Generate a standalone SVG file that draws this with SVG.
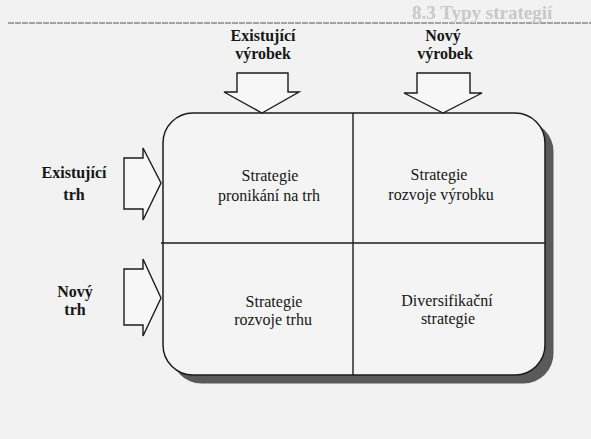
<svg xmlns="http://www.w3.org/2000/svg" width="591" height="439" viewBox="0 0 591 439">
  <style>
    .bold { font-family: "Liberation Serif", "Times New Roman", serif; font-size: 16px; font-weight: bold; fill: #161616; text-anchor: middle; }
    .reg { font-family: "Liberation Serif", "Times New Roman", serif; font-size: 16px; fill: #161616; text-anchor: middle; }
    .arrow { fill: #f7f7f7; stroke: #1c1c1c; stroke-width: 1.4; stroke-linejoin: miter; }
    .line { stroke: #1c1c1c; stroke-width: 1.4; fill: none; }
    .ghost { font-family: "Liberation Serif", "Times New Roman", serif; font-size: 19px; font-weight: bold; fill: #c9c9c9; }
  </style>
  <rect x="0" y="0" width="591" height="439" fill="#f2f2f2"/>
  <line x1="8" y1="23" x2="591" y2="23" stroke="#555" stroke-width="1.2" stroke-dasharray="6 1"/>
  <text class="ghost" x="412" y="19">8.3 Typy strategií</text>

  <g id="matrix">
    <rect x="171.5" y="121.5" width="382" height="262" rx="30" ry="30" fill="#5a5a5a"/>
    <rect x="163" y="113" width="382" height="262" rx="30" ry="30" fill="#f4f4f4" stroke="#1c1c1c" stroke-width="1.5"/>
  </g>

  <g id="connectors">
    <line class="line" x1="353" y1="113" x2="353" y2="375"/>
    <line class="line" x1="161" y1="243" x2="545" y2="243"/>
    <polygon class="arrow" points="237,73 288,73 288,92 299,92 262,113 224,92 237,92"/>
    <polygon class="arrow" points="417,73 470,73 470,93 482,93 443,113 404,93 417,93"/>
    <polygon class="arrow" points="124,158 143,158 143,148 161,183 143,220 143,209 124,209"/>
    <polygon class="arrow" points="124,269 143,269 143,259 161,298 143,336 143,325 124,325"/>
  </g>

  <g id="label-existujici-vyrobek">
    <text class="bold" x="263" y="41">Existující</text>
    <text class="bold" x="263" y="59">výrobek</text>
  </g>
  <g id="label-novy-vyrobek">
    <text class="bold" x="443" y="41">Nový</text>
    <text class="bold" x="445" y="59">výrobek</text>
  </g>
  <g id="label-existujici-trh">
    <text class="bold" x="74" y="178">Existující</text>
    <text class="bold" x="74" y="200">trh</text>
  </g>
  <g id="label-novy-trh">
    <text class="bold" x="75" y="297">Nový</text>
    <text class="bold" x="75" y="315">trh</text>
  </g>

  <g id="q-pronikani">
    <text class="reg" x="270" y="181">Strategie</text>
    <text class="reg" x="269" y="201">pronikání na trh</text>
  </g>
  <g id="q-rozvoj-vyrobku">
    <text class="reg" x="439" y="180">Strategie</text>
    <text class="reg" x="441" y="200">rozvoje výrobku</text>
  </g>
  <g id="q-rozvoj-trhu">
    <text class="reg" x="274" y="307">Strategie</text>
    <text class="reg" x="273" y="325">rozvoje trhu</text>
  </g>
  <g id="q-diversifikace">
    <text class="reg" x="447" y="306">Diversifikační</text>
    <text class="reg" x="448" y="324">strategie</text>
  </g>
</svg>
